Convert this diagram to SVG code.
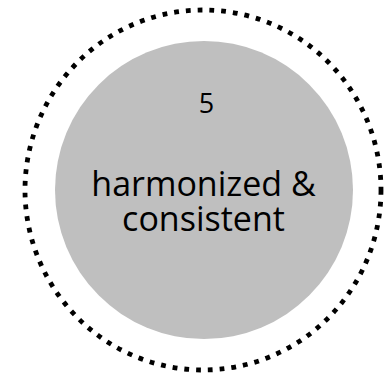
<svg xmlns="http://www.w3.org/2000/svg" width="385" height="376" viewBox="0 0 385 376">
<style>
.ring{fill:none;stroke:#000;stroke-width:4.8;stroke-dasharray:4.8 7}
.disc{fill:#BFBFBF}
.t{font-family:"Open Sans","Noto Sans","Liberation Sans",sans-serif;fill:#000;text-anchor:middle}
</style>
<rect width="385" height="376" fill="#fff"/>
<g id="outer-ring"><ellipse class="ring" cx="203" cy="190" rx="178" ry="180"/></g>
<g id="node-5">
<circle class="disc" cx="204" cy="190" r="149"/>
<text class="t" x="206.5" y="113" font-size="27">5</text>
<text class="t" x="203.5" y="195.5" font-size="34">harmonized &amp;</text>
<text class="t" x="203.5" y="231" font-size="34">consistent</text>
</g>
<g id="connectors"/>
</svg>
